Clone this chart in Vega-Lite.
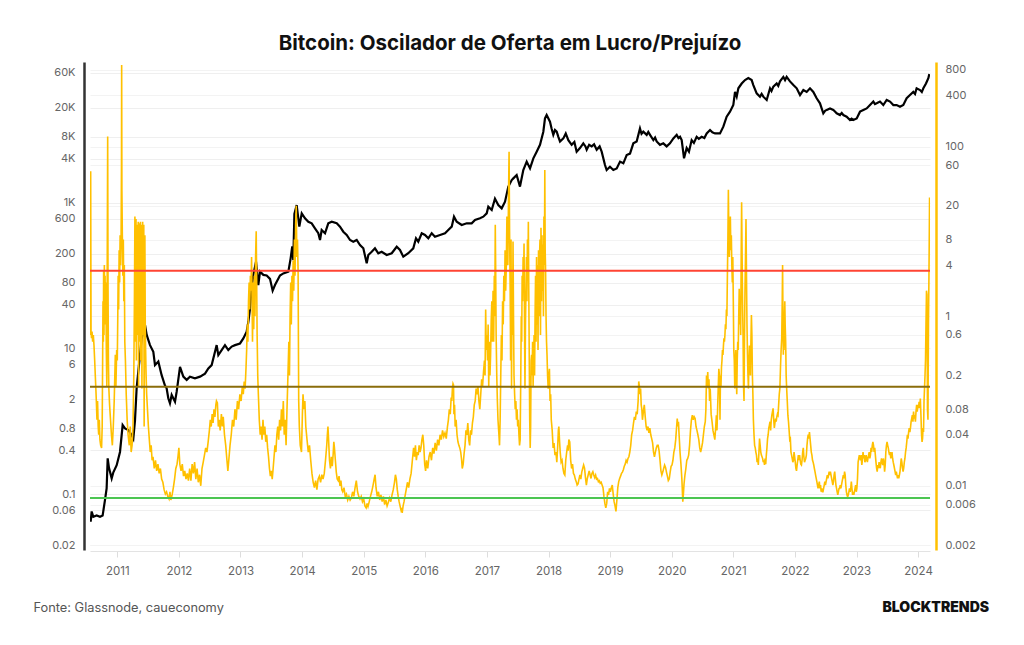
{
"$schema": "https://vega.github.io/schema/vega-lite/v6.json",
"width": 840, "height": 488,
"autosize": {"type": "none"},
"padding": {"left": 90, "top": 62, "right": 94, "bottom": 95},
"background": "white",
"config": {"font": "Inter", "view": {"stroke": null}},
"title": {"text": "Bitcoin: Oscilador de Oferta em Lucro/Prejuízo", "fontSize": 20.5, "fontWeight": "bold", "color": "#111111", "anchor": "middle", "offset": 8, "font": "Inter"},
"datasets": {
"preco": [
{"ano":2010.568,"preco":0.042},{"ano":2010.584,"preco":0.058},{"ano":2010.611,"preco":0.049},{"ano":2010.665,"preco":0.051},{"ano":2010.719,"preco":0.049},{"ano":2010.762,"preco":0.051},{"ano":2010.8,"preco":0.083},{"ano":2010.827,"preco":0.12},{"ano":2010.844,"preco":0.31},{"ano":2010.865,"preco":0.23},{"ano":2010.909,"preco":0.165},{"ano":2010.936,"preco":0.2},{"ano":2010.99,"preco":0.25},{"ano":2011.044,"preco":0.38},{"ano":2011.087,"preco":0.89},{"ano":2011.125,"preco":0.8},{"ano":2011.179,"preco":0.76},{"ano":2011.233,"preco":0.65},{"ano":2011.26,"preco":0.58},{"ano":2011.287,"preco":1.01},{"ano":2011.314,"preco":2.84},{"ano":2011.341,"preco":4.8},{"ano":2011.396,"preco":13.7},{"ano":2011.45,"preco":21},{"ano":2011.477,"preco":15.3},{"ano":2011.531,"preco":11.1},{"ano":2011.585,"preco":9},{"ano":2011.612,"preco":5.9},{"ano":2011.666,"preco":6.6},{"ano":2011.72,"preco":4.3},{"ano":2011.774,"preco":3.1},{"ano":2011.801,"preco":2.84},{"ano":2011.828,"preco":2.07},{"ano":2011.855,"preco":1.77},{"ano":2011.883,"preco":2.3},{"ano":2011.937,"preco":1.86},{"ano":2011.964,"preco":2.55},{"ano":2012.018,"preco":5.6},{"ano":2012.072,"preco":4.1},{"ano":2012.126,"preco":3.7},{"ano":2012.18,"preco":4.1},{"ano":2012.261,"preco":3.9},{"ano":2012.343,"preco":4.1},{"ano":2012.424,"preco":4.5},{"ano":2012.478,"preco":5.3},{"ano":2012.532,"preco":5.9},{"ano":2012.586,"preco":9},{"ano":2012.613,"preco":11.1},{"ano":2012.64,"preco":8.1},{"ano":2012.694,"preco":9.5},{"ano":2012.748,"preco":11.1},{"ano":2012.802,"preco":9.5},{"ano":2012.857,"preco":10.6},{"ano":2012.911,"preco":11.1},{"ano":2012.992,"preco":11.7},{"ano":2013.046,"preco":13.7},{"ano":2013.1,"preco":17},{"ano":2013.127,"preco":23},{"ano":2013.154,"preco":35},{"ano":2013.181,"preco":67},{"ano":2013.208,"preco":102},{"ano":2013.252,"preco":155},{"ano":2013.289,"preco":74},{"ano":2013.317,"preco":113},{"ano":2013.371,"preco":102},{"ano":2013.425,"preco":100},{"ano":2013.479,"preco":90},{"ano":2013.522,"preco":62},{"ano":2013.56,"preco":74},{"ano":2013.641,"preco":100},{"ano":2013.695,"preco":107},{"ano":2013.777,"preco":113},{"ano":2013.814,"preco":172},{"ano":2013.84,"preco":250},{"ano":2013.857,"preco":163},{"ano":2013.875,"preco":700},{"ano":2013.912,"preco":927},{"ano":2013.955,"preco":468},{"ano":2013.994,"preco":713},{"ano":2014.047,"preco":609},{"ano":2014.101,"preco":547},{"ano":2014.156,"preco":520},{"ano":2014.209,"preco":444},{"ano":2014.263,"preco":380},{"ano":2014.291,"preco":307},{"ano":2014.318,"preco":421},{"ano":2014.372,"preco":380},{"ano":2014.425,"preco":520},{"ano":2014.481,"preco":547},{"ano":2014.562,"preco":520},{"ano":2014.615,"preco":468},{"ano":2014.669,"preco":399},{"ano":2014.724,"preco":360},{"ano":2014.778,"preco":307},{"ano":2014.831,"preco":291},{"ano":2014.886,"preco":307},{"ano":2014.94,"preco":262},{"ano":2014.994,"preco":236},{"ano":2015.049,"preco":147},{"ano":2015.075,"preco":191},{"ano":2015.13,"preco":212},{"ano":2015.183,"preco":236},{"ano":2015.237,"preco":202},{"ano":2015.292,"preco":212},{"ano":2015.373,"preco":191},{"ano":2015.455,"preco":202},{"ano":2015.536,"preco":248},{"ano":2015.589,"preco":224},{"ano":2015.643,"preco":181},{"ano":2015.724,"preco":202},{"ano":2015.805,"preco":236},{"ano":2015.849,"preco":324},{"ano":2015.886,"preco":291},{"ano":2015.942,"preco":380},{"ano":2015.995,"preco":360},{"ano":2016.049,"preco":324},{"ano":2016.104,"preco":380},{"ano":2016.157,"preco":340},{"ano":2016.239,"preco":360},{"ano":2016.32,"preco":380},{"ano":2016.373,"preco":421},{"ano":2016.429,"preco":468},{"ano":2016.466,"preco":641},{"ano":2016.51,"preco":547},{"ano":2016.591,"preco":493},{"ano":2016.672,"preco":520},{"ano":2016.753,"preco":520},{"ano":2016.807,"preco":578},{"ano":2016.888,"preco":609},{"ano":2016.942,"preco":641},{"ano":2016.997,"preco":713},{"ano":2017.023,"preco":879},{"ano":2017.078,"preco":792},{"ano":2017.131,"preco":1130},{"ano":2017.185,"preco":927},{"ano":2017.24,"preco":835},{"ano":2017.294,"preco":1030},{"ano":2017.347,"preco":1650},{"ano":2017.403,"preco":2040},{"ano":2017.429,"preco":2150},{"ano":2017.483,"preco":2390},{"ano":2017.537,"preco":1660},{"ano":2017.591,"preco":2800},{"ano":2017.646,"preco":3650},{"ano":2017.7,"preco":2950},{"ano":2017.754,"preco":4050},{"ano":2017.808,"preco":5000},{"ano":2017.862,"preco":6200},{"ano":2017.916,"preco":9400},{"ano":2017.943,"preco":14300},{"ano":2017.97,"preco":15900},{"ano":2018.024,"preco":12900},{"ano":2018.05,"preco":10400},{"ano":2018.078,"preco":8500},{"ano":2018.105,"preco":9900},{"ano":2018.133,"preco":9400},{"ano":2018.16,"preco":8000},{"ano":2018.187,"preco":6900},{"ano":2018.241,"preco":7600},{"ano":2018.28,"preco":8900},{"ano":2018.322,"preco":7200},{"ano":2018.376,"preco":6200},{"ano":2018.42,"preco":6800},{"ano":2018.457,"preco":5000},{"ano":2018.511,"preco":5600},{"ano":2018.565,"preco":6500},{"ano":2018.6,"preco":5900},{"ano":2018.62,"preco":5300},{"ano":2018.66,"preco":6200},{"ano":2018.701,"preco":5900},{"ano":2018.74,"preco":6300},{"ano":2018.782,"preco":5300},{"ano":2018.83,"preco":5900},{"ano":2018.863,"preco":5000},{"ano":2018.917,"preco":3280},{"ano":2018.944,"preco":2800},{"ano":2018.998,"preco":3110},{"ano":2019.052,"preco":2800},{"ano":2019.107,"preco":2950},{"ano":2019.161,"preco":3650},{"ano":2019.215,"preco":3460},{"ano":2019.269,"preco":4500},{"ano":2019.323,"preco":4700},{"ano":2019.377,"preco":6500},{"ano":2019.431,"preco":6900},{"ano":2019.485,"preco":10400},{"ano":2019.51,"preco":8800},{"ano":2019.539,"preco":9400},{"ano":2019.594,"preco":8500},{"ano":2019.62,"preco":9300},{"ano":2019.648,"preco":8500},{"ano":2019.702,"preco":7200},{"ano":2019.73,"preco":7800},{"ano":2019.756,"preco":6900},{"ano":2019.81,"preco":6200},{"ano":2019.864,"preco":6500},{"ano":2019.918,"preco":5900},{"ano":2019.972,"preco":6500},{"ano":2020.027,"preco":7600},{"ano":2020.081,"preco":8500},{"ano":2020.11,"preco":7700},{"ano":2020.135,"preco":8000},{"ano":2020.162,"preco":7200},{"ano":2020.2,"preco":4050},{"ano":2020.243,"preco":5600},{"ano":2020.28,"preco":5000},{"ano":2020.324,"preco":7200},{"ano":2020.36,"preco":6600},{"ano":2020.405,"preco":8000},{"ano":2020.44,"preco":7500},{"ano":2020.486,"preco":8000},{"ano":2020.53,"preco":7700},{"ano":2020.568,"preco":8900},{"ano":2020.622,"preco":9900},{"ano":2020.66,"preco":9200},{"ano":2020.703,"preco":8900},{"ano":2020.757,"preco":8900},{"ano":2020.784,"preco":8900},{"ano":2020.838,"preco":11000},{"ano":2020.892,"preco":15100},{"ano":2020.946,"preco":17700},{"ano":2021.0,"preco":21800},{"ano":2021.028,"preco":33000},{"ano":2021.055,"preco":28400},{"ano":2021.082,"preco":37000},{"ano":2021.136,"preco":43000},{"ano":2021.19,"preco":48000},{"ano":2021.244,"preco":51000},{"ano":2021.298,"preco":48000},{"ano":2021.325,"preco":41000},{"ano":2021.379,"preco":31600},{"ano":2021.433,"preco":28400},{"ano":2021.46,"preco":31000},{"ano":2021.487,"preco":28400},{"ano":2021.542,"preco":25600},{"ano":2021.596,"preco":37000},{"ano":2021.62,"preco":34000},{"ano":2021.65,"preco":39000},{"ano":2021.704,"preco":43000},{"ano":2021.73,"preco":40000},{"ano":2021.758,"preco":46000},{"ano":2021.812,"preco":53000},{"ano":2021.84,"preco":48000},{"ano":2021.866,"preco":53000},{"ano":2021.92,"preco":46000},{"ano":2021.975,"preco":41000},{"ano":2022.029,"preco":37000},{"ano":2022.083,"preco":29900},{"ano":2022.137,"preco":35000},{"ano":2022.191,"preco":33000},{"ano":2022.245,"preco":37000},{"ano":2022.299,"preco":33000},{"ano":2022.353,"preco":27000},{"ano":2022.407,"preco":23000},{"ano":2022.461,"preco":16800},{"ano":2022.49,"preco":18200},{"ano":2022.516,"preco":18700},{"ano":2022.57,"preco":19600},{"ano":2022.624,"preco":18700},{"ano":2022.65,"preco":17800},{"ano":2022.678,"preco":16800},{"ano":2022.732,"preco":15900},{"ano":2022.76,"preco":17000},{"ano":2022.786,"preco":15900},{"ano":2022.84,"preco":15100},{"ano":2022.894,"preco":13600},{"ano":2022.92,"preco":14200},{"ano":2022.948,"preco":13600},{"ano":2023.003,"preco":14300},{"ano":2023.057,"preco":17700},{"ano":2023.111,"preco":18700},{"ano":2023.165,"preco":19600},{"ano":2023.219,"preco":21800},{"ano":2023.273,"preco":24300},{"ano":2023.3,"preco":22500},{"ano":2023.327,"preco":23000},{"ano":2023.381,"preco":24300},{"ano":2023.435,"preco":21800},{"ano":2023.49,"preco":25600},{"ano":2023.544,"preco":24300},{"ano":2023.598,"preco":21800},{"ano":2023.652,"preco":21800},{"ano":2023.706,"preco":20700},{"ano":2023.76,"preco":21800},{"ano":2023.814,"preco":27000},{"ano":2023.868,"preco":29900},{"ano":2023.922,"preco":33000},{"ano":2023.95,"preco":31000},{"ano":2023.976,"preco":37000},{"ano":2024.031,"preco":35000},{"ano":2024.06,"preco":33000},{"ano":2024.085,"preco":37000},{"ano":2024.128,"preco":43000},{"ano":2024.166,"preco":51000},{"ano":2024.182,"preco":58000}
],
"oscilador": [
{"ano":2010.558,"osc":0.6},{"ano":2010.563,"osc":0.7},{"ano":2010.568,"osc":51},{"ano":2010.574,"osc":0.66},{"ano":2010.582,"osc":0.55},{"ano":2010.59,"osc":0.66},{"ano":2010.6,"osc":0.5},{"ano":2010.611,"osc":0.6},{"ano":2010.622,"osc":0.45},{"ano":2010.633,"osc":0.3},{"ano":2010.643,"osc":0.2},{"ano":2010.652,"osc":0.14},{"ano":2010.66,"osc":0.1},{"ano":2010.67,"osc":0.06},{"ano":2010.68,"osc":0.1},{"ano":2010.69,"osc":0.05},{"ano":2010.698,"osc":0.04},{"ano":2010.708,"osc":0.06},{"ano":2010.718,"osc":0.035},{"ano":2010.73,"osc":0.03},{"ano":2010.745,"osc":0.028},{"ano":2010.755,"osc":0.05},{"ano":2010.762,"osc":0.3},{"ano":2010.768,"osc":1.5},{"ano":2010.774,"osc":0.5},{"ano":2010.778,"osc":3.5},{"ano":2010.784,"osc":0.6},{"ano":2010.79,"osc":4},{"ano":2010.796,"osc":1},{"ano":2010.802,"osc":3},{"ano":2010.808,"osc":0.8},{"ano":2010.815,"osc":2.5},{"ano":2010.822,"osc":0.4},{"ano":2010.83,"osc":0.15},{"ano":2010.838,"osc":8},{"ano":2010.844,"osc":131},{"ano":2010.85,"osc":2},{"ano":2010.856,"osc":0.3},{"ano":2010.863,"osc":0.14},{"ano":2010.875,"osc":0.09},{"ano":2010.89,"osc":0.06},{"ano":2010.905,"osc":0.04},{"ano":2010.92,"osc":0.03},{"ano":2010.935,"osc":0.05},{"ano":2010.95,"osc":0.1},{"ano":2010.96,"osc":0.2},{"ano":2010.968,"osc":0.35},{"ano":2010.978,"osc":0.15},{"ano":2010.99,"osc":0.4},{"ano":2011.0,"osc":0.3},{"ano":2011.008,"osc":1},{"ano":2011.014,"osc":3},{"ano":2011.022,"osc":1.2},{"ano":2011.03,"osc":6},{"ano":2011.038,"osc":2.5},{"ano":2011.046,"osc":9},{"ano":2011.054,"osc":4},{"ano":2011.062,"osc":9},{"ano":2011.068,"osc":60},{"ano":2011.071,"osc":916},{"ano":2011.075,"osc":30},{"ano":2011.082,"osc":9},{"ano":2011.09,"osc":3},{"ano":2011.098,"osc":8},{"ano":2011.106,"osc":1.5},{"ano":2011.114,"osc":4},{"ano":2011.122,"osc":0.5},{"ano":2011.132,"osc":0.3},{"ano":2011.145,"osc":0.12},{"ano":2011.16,"osc":0.06},{"ano":2011.175,"osc":0.04},{"ano":2011.195,"osc":0.03},{"ano":2011.21,"osc":0.05},{"ano":2011.225,"osc":0.025},{"ano":2011.24,"osc":0.03},{"ano":2011.255,"osc":0.05},{"ano":2011.268,"osc":0.2},{"ano":2011.278,"osc":1.5},{"ano":2011.286,"osc":15},{"ano":2011.292,"osc":0.5},{"ano":2011.298,"osc":2},{"ano":2011.304,"osc":14},{"ano":2011.31,"osc":0.3},{"ano":2011.316,"osc":3},{"ano":2011.322,"osc":12},{"ano":2011.328,"osc":0.6},{"ano":2011.334,"osc":4},{"ano":2011.34,"osc":13},{"ano":2011.346,"osc":0.15},{"ano":2011.352,"osc":2},{"ano":2011.358,"osc":12.5},{"ano":2011.364,"osc":0.5},{"ano":2011.37,"osc":5},{"ano":2011.376,"osc":13},{"ano":2011.382,"osc":0.3},{"ano":2011.388,"osc":3},{"ano":2011.394,"osc":12},{"ano":2011.4,"osc":0.14},{"ano":2011.406,"osc":6},{"ano":2011.412,"osc":13},{"ano":2011.418,"osc":0.6},{"ano":2011.424,"osc":2.5},{"ano":2011.43,"osc":12},{"ano":2011.436,"osc":0.05},{"ano":2011.442,"osc":1.5},{"ano":2011.448,"osc":9},{"ano":2011.454,"osc":0.8},{"ano":2011.46,"osc":0.4},{"ano":2011.468,"osc":0.2},{"ano":2011.477,"osc":0.12},{"ano":2011.49,"osc":0.08},{"ano":2011.505,"osc":0.05},{"ano":2011.52,"osc":0.035},{"ano":2011.535,"osc":0.025},{"ano":2011.55,"osc":0.03},{"ano":2011.565,"osc":0.02},{"ano":2011.58,"osc":0.022},{"ano":2011.6,"osc":0.016},{"ano":2011.62,"osc":0.02},{"ano":2011.64,"osc":0.015},{"ano":2011.66,"osc":0.018},{"ano":2011.68,"osc":0.014},{"ano":2011.7,"osc":0.016},{"ano":2011.72,"osc":0.012},{"ano":2011.74,"osc":0.011},{"ano":2011.76,"osc":0.009},{"ano":2011.78,"osc":0.008},{"ano":2011.8,"osc":0.0085},{"ano":2011.82,"osc":0.0075},{"ano":2011.84,"osc":0.007},{"ano":2011.855,"osc":0.0085},{"ano":2011.87,"osc":0.0068},{"ano":2011.89,"osc":0.0078},{"ano":2011.91,"osc":0.0095},{"ano":2011.93,"osc":0.012},{"ano":2011.95,"osc":0.016},{"ano":2011.97,"osc":0.018},{"ano":2011.985,"osc":0.022},{"ano":2012.0,"osc":0.028},{"ano":2012.015,"osc":0.018},{"ano":2012.035,"osc":0.015},{"ano":2012.055,"osc":0.018},{"ano":2012.075,"osc":0.013},{"ano":2012.095,"osc":0.015},{"ano":2012.115,"osc":0.012},{"ano":2012.135,"osc":0.014},{"ano":2012.155,"osc":0.0115},{"ano":2012.175,"osc":0.016},{"ano":2012.195,"osc":0.0115},{"ano":2012.215,"osc":0.018},{"ano":2012.235,"osc":0.014},{"ano":2012.255,"osc":0.019},{"ano":2012.275,"osc":0.012},{"ano":2012.295,"osc":0.016},{"ano":2012.315,"osc":0.011},{"ano":2012.335,"osc":0.0135},{"ano":2012.355,"osc":0.01},{"ano":2012.375,"osc":0.016},{"ano":2012.395,"osc":0.019},{"ano":2012.415,"osc":0.023},{"ano":2012.435,"osc":0.028},{"ano":2012.455,"osc":0.025},{"ano":2012.475,"osc":0.033},{"ano":2012.495,"osc":0.045},{"ano":2012.51,"osc":0.06},{"ano":2012.525,"osc":0.05},{"ano":2012.54,"osc":0.07},{"ano":2012.555,"osc":0.055},{"ano":2012.57,"osc":0.08},{"ano":2012.585,"osc":0.065},{"ano":2012.6,"osc":0.09},{"ano":2012.61,"osc":0.1},{"ano":2012.625,"osc":0.095},{"ano":2012.64,"osc":0.05},{"ano":2012.655,"osc":0.06},{"ano":2012.67,"osc":0.045},{"ano":2012.69,"osc":0.07},{"ano":2012.705,"osc":0.05},{"ano":2012.72,"osc":0.065},{"ano":2012.74,"osc":0.04},{"ano":2012.76,"osc":0.03},{"ano":2012.78,"osc":0.02},{"ano":2012.795,"osc":0.015},{"ano":2012.81,"osc":0.02},{"ano":2012.83,"osc":0.03},{"ano":2012.85,"osc":0.04},{"ano":2012.87,"osc":0.06},{"ano":2012.89,"osc":0.05},{"ano":2012.91,"osc":0.08},{"ano":2012.93,"osc":0.06},{"ano":2012.95,"osc":0.1},{"ano":2012.97,"osc":0.08},{"ano":2012.99,"osc":0.12},{"ano":2013.01,"osc":0.1},{"ano":2013.03,"osc":0.15},{"ano":2013.045,"osc":0.12},{"ano":2013.06,"osc":0.17},{"ano":2013.075,"osc":0.14},{"ano":2013.09,"osc":0.25},{"ano":2013.1,"osc":0.4},{"ano":2013.11,"osc":0.8},{"ano":2013.12,"osc":0.5},{"ano":2013.13,"osc":1.5},{"ano":2013.14,"osc":2.5},{"ano":2013.15,"osc":1.2},{"ano":2013.16,"osc":3},{"ano":2013.17,"osc":2},{"ano":2013.18,"osc":5},{"ano":2013.188,"osc":1.5},{"ano":2013.195,"osc":0.5},{"ano":2013.205,"osc":2.5},{"ano":2013.215,"osc":0.7},{"ano":2013.225,"osc":3},{"ano":2013.235,"osc":1},{"ano":2013.245,"osc":5},{"ano":2013.255,"osc":10},{"ano":2013.262,"osc":3},{"ano":2013.27,"osc":0.6},{"ano":2013.28,"osc":0.2},{"ano":2013.29,"osc":0.12},{"ano":2013.305,"osc":0.06},{"ano":2013.32,"osc":0.04},{"ano":2013.335,"osc":0.05},{"ano":2013.35,"osc":0.035},{"ano":2013.365,"osc":0.06},{"ano":2013.38,"osc":0.04},{"ano":2013.395,"osc":0.05},{"ano":2013.41,"osc":0.033},{"ano":2013.425,"osc":0.04},{"ano":2013.44,"osc":0.028},{"ano":2013.455,"osc":0.022},{"ano":2013.47,"osc":0.016},{"ano":2013.485,"osc":0.013},{"ano":2013.5,"osc":0.015},{"ano":2013.515,"osc":0.012},{"ano":2013.53,"osc":0.016},{"ano":2013.545,"osc":0.022},{"ano":2013.56,"osc":0.03},{"ano":2013.575,"osc":0.025},{"ano":2013.59,"osc":0.04},{"ano":2013.605,"osc":0.05},{"ano":2013.62,"osc":0.035},{"ano":2013.635,"osc":0.06},{"ano":2013.65,"osc":0.045},{"ano":2013.665,"osc":0.08},{"ano":2013.68,"osc":0.05},{"ano":2013.695,"osc":0.1},{"ano":2013.71,"osc":0.04},{"ano":2013.725,"osc":0.06},{"ano":2013.74,"osc":0.03},{"ano":2013.755,"osc":0.08},{"ano":2013.77,"osc":0.2},{"ano":2013.785,"osc":0.5},{"ano":2013.795,"osc":0.2},{"ano":2013.805,"osc":1},{"ano":2013.815,"osc":2.5},{"ano":2013.825,"osc":0.8},{"ano":2013.835,"osc":3},{"ano":2013.845,"osc":1.5},{"ano":2013.855,"osc":4.5},{"ano":2013.865,"osc":2},{"ano":2013.875,"osc":8},{"ano":2013.885,"osc":3},{"ano":2013.895,"osc":12},{"ano":2013.905,"osc":20},{"ano":2013.915,"osc":5},{"ano":2013.925,"osc":8},{"ano":2013.935,"osc":3.5},{"ano":2013.945,"osc":0.1},{"ano":2013.955,"osc":0.05},{"ano":2013.97,"osc":0.03},{"ano":2013.99,"osc":0.025},{"ano":2014.005,"osc":0.07},{"ano":2014.015,"osc":0.12},{"ano":2014.03,"osc":0.08},{"ano":2014.045,"osc":0.1},{"ano":2014.06,"osc":0.05},{"ano":2014.08,"osc":0.035},{"ano":2014.1,"osc":0.025},{"ano":2014.12,"osc":0.03},{"ano":2014.14,"osc":0.02},{"ano":2014.16,"osc":0.014},{"ano":2014.18,"osc":0.011},{"ano":2014.2,"osc":0.0095},{"ano":2014.22,"osc":0.0115},{"ano":2014.24,"osc":0.009},{"ano":2014.26,"osc":0.012},{"ano":2014.28,"osc":0.013},{"ano":2014.3,"osc":0.011},{"ano":2014.32,"osc":0.0135},{"ano":2014.34,"osc":0.012},{"ano":2014.36,"osc":0.014},{"ano":2014.38,"osc":0.02},{"ano":2014.4,"osc":0.03},{"ano":2014.41,"osc":0.04},{"ano":2014.42,"osc":0.05},{"ano":2014.43,"osc":0.035},{"ano":2014.445,"osc":0.02},{"ano":2014.46,"osc":0.016},{"ano":2014.475,"osc":0.022},{"ano":2014.49,"osc":0.017},{"ano":2014.505,"osc":0.024},{"ano":2014.515,"osc":0.033},{"ano":2014.525,"osc":0.028},{"ano":2014.54,"osc":0.02},{"ano":2014.555,"osc":0.0145},{"ano":2014.57,"osc":0.012},{"ano":2014.585,"osc":0.0115},{"ano":2014.6,"osc":0.013},{"ano":2014.615,"osc":0.01},{"ano":2014.63,"osc":0.0115},{"ano":2014.645,"osc":0.009},{"ano":2014.66,"osc":0.0085},{"ano":2014.68,"osc":0.0095},{"ano":2014.7,"osc":0.0075},{"ano":2014.72,"osc":0.008},{"ano":2014.74,"osc":0.0068},{"ano":2014.76,"osc":0.0075},{"ano":2014.78,"osc":0.0068},{"ano":2014.8,"osc":0.0072},{"ano":2014.82,"osc":0.0085},{"ano":2014.84,"osc":0.0075},{"ano":2014.86,"osc":0.0095},{"ano":2014.88,"osc":0.0115},{"ano":2014.9,"osc":0.0085},{"ano":2014.92,"osc":0.0075},{"ano":2014.94,"osc":0.007},{"ano":2014.96,"osc":0.0075},{"ano":2014.98,"osc":0.0065},{"ano":2015.0,"osc":0.007},{"ano":2015.02,"osc":0.0058},{"ano":2015.04,"osc":0.0055},{"ano":2015.055,"osc":0.0062},{"ano":2015.07,"osc":0.0057},{"ano":2015.09,"osc":0.0065},{"ano":2015.11,"osc":0.0075},{"ano":2015.13,"osc":0.0085},{"ano":2015.15,"osc":0.01},{"ano":2015.17,"osc":0.012},{"ano":2015.185,"osc":0.0135},{"ano":2015.2,"osc":0.0095},{"ano":2015.22,"osc":0.0075},{"ano":2015.24,"osc":0.0085},{"ano":2015.26,"osc":0.0068},{"ano":2015.28,"osc":0.0078},{"ano":2015.3,"osc":0.0065},{"ano":2015.32,"osc":0.0075},{"ano":2015.34,"osc":0.006},{"ano":2015.36,"osc":0.0068},{"ano":2015.38,"osc":0.0058},{"ano":2015.4,"osc":0.0064},{"ano":2015.42,"osc":0.0072},{"ano":2015.44,"osc":0.0065},{"ano":2015.46,"osc":0.0078},{"ano":2015.48,"osc":0.009},{"ano":2015.5,"osc":0.011},{"ano":2015.515,"osc":0.0135},{"ano":2015.53,"osc":0.012},{"ano":2015.545,"osc":0.009},{"ano":2015.56,"osc":0.0075},{"ano":2015.575,"osc":0.0065},{"ano":2015.59,"osc":0.0058},{"ano":2015.605,"osc":0.0052},{"ano":2015.615,"osc":0.0055},{"ano":2015.625,"osc":0.0048},{"ano":2015.64,"osc":0.0058},{"ano":2015.655,"osc":0.0065},{"ano":2015.67,"osc":0.0075},{"ano":2015.69,"osc":0.009},{"ano":2015.71,"osc":0.011},{"ano":2015.73,"osc":0.0095},{"ano":2015.75,"osc":0.012},{"ano":2015.77,"osc":0.014},{"ano":2015.79,"osc":0.02},{"ano":2015.81,"osc":0.028},{"ano":2015.825,"osc":0.022},{"ano":2015.84,"osc":0.03},{"ano":2015.855,"osc":0.02},{"ano":2015.87,"osc":0.025},{"ano":2015.885,"osc":0.023},{"ano":2015.9,"osc":0.03},{"ano":2015.915,"osc":0.025},{"ano":2015.93,"osc":0.028},{"ano":2015.945,"osc":0.035},{"ano":2015.96,"osc":0.04},{"ano":2015.975,"osc":0.03},{"ano":2015.99,"osc":0.018},{"ano":2016.005,"osc":0.015},{"ano":2016.02,"osc":0.02},{"ano":2016.04,"osc":0.016},{"ano":2016.06,"osc":0.022},{"ano":2016.08,"osc":0.025},{"ano":2016.1,"osc":0.02},{"ano":2016.12,"osc":0.028},{"ano":2016.14,"osc":0.024},{"ano":2016.16,"osc":0.032},{"ano":2016.18,"osc":0.026},{"ano":2016.2,"osc":0.035},{"ano":2016.22,"osc":0.03},{"ano":2016.24,"osc":0.04},{"ano":2016.26,"osc":0.035},{"ano":2016.28,"osc":0.045},{"ano":2016.3,"osc":0.038},{"ano":2016.32,"osc":0.042},{"ano":2016.34,"osc":0.036},{"ano":2016.36,"osc":0.05},{"ano":2016.375,"osc":0.06},{"ano":2016.39,"osc":0.08},{"ano":2016.405,"osc":0.07},{"ano":2016.42,"osc":0.11},{"ano":2016.43,"osc":0.1},{"ano":2016.44,"osc":0.14},{"ano":2016.45,"osc":0.16},{"ano":2016.458,"osc":0.155},{"ano":2016.465,"osc":0.07},{"ano":2016.475,"osc":0.09},{"ano":2016.485,"osc":0.05},{"ano":2016.5,"osc":0.06},{"ano":2016.515,"osc":0.04},{"ano":2016.53,"osc":0.033},{"ano":2016.545,"osc":0.03},{"ano":2016.56,"osc":0.028},{"ano":2016.575,"osc":0.025},{"ano":2016.59,"osc":0.02},{"ano":2016.6,"osc":0.016},{"ano":2016.615,"osc":0.018},{"ano":2016.63,"osc":0.024},{"ano":2016.645,"osc":0.03},{"ano":2016.66,"osc":0.045},{"ano":2016.675,"osc":0.04},{"ano":2016.69,"osc":0.055},{"ano":2016.705,"osc":0.035},{"ano":2016.72,"osc":0.03},{"ano":2016.735,"osc":0.045},{"ano":2016.75,"osc":0.04},{"ano":2016.765,"osc":0.055},{"ano":2016.78,"osc":0.065},{"ano":2016.795,"osc":0.09},{"ano":2016.81,"osc":0.1},{"ano":2016.825,"osc":0.14},{"ano":2016.84,"osc":0.12},{"ano":2016.855,"osc":0.15},{"ano":2016.87,"osc":0.1},{"ano":2016.885,"osc":0.08},{"ano":2016.9,"osc":0.12},{"ano":2016.915,"osc":0.18},{"ano":2016.93,"osc":0.15},{"ano":2016.945,"osc":0.22},{"ano":2016.96,"osc":0.3},{"ano":2016.97,"osc":0.2},{"ano":2016.98,"osc":1.2},{"ano":2016.99,"osc":0.4},{"ano":2017.0,"osc":0.6},{"ano":2017.01,"osc":0.3},{"ano":2017.02,"osc":0.8},{"ano":2017.03,"osc":0.15},{"ano":2017.04,"osc":0.5},{"ano":2017.05,"osc":0.2},{"ano":2017.06,"osc":0.35},{"ano":2017.07,"osc":0.9},{"ano":2017.08,"osc":1.5},{"ano":2017.09,"osc":0.5},{"ano":2017.1,"osc":2},{"ano":2017.11,"osc":0.5},{"ano":2017.12,"osc":3},{"ano":2017.128,"osc":1},{"ano":2017.136,"osc":12},{"ano":2017.142,"osc":4},{"ano":2017.15,"osc":0.6},{"ano":2017.16,"osc":0.2},{"ano":2017.17,"osc":0.1},{"ano":2017.18,"osc":0.06},{"ano":2017.195,"osc":0.04},{"ano":2017.205,"osc":0.03},{"ano":2017.215,"osc":0.06},{"ano":2017.225,"osc":0.2},{"ano":2017.235,"osc":0.6},{"ano":2017.245,"osc":0.3},{"ano":2017.255,"osc":1.5},{"ano":2017.265,"osc":0.8},{"ano":2017.275,"osc":3},{"ano":2017.285,"osc":1.5},{"ano":2017.295,"osc":6},{"ano":2017.305,"osc":2},{"ano":2017.315,"osc":4},{"ano":2017.325,"osc":15},{"ano":2017.34,"osc":4},{"ano":2017.352,"osc":30},{"ano":2017.36,"osc":87},{"ano":2017.368,"osc":10},{"ano":2017.378,"osc":2},{"ano":2017.385,"osc":0.3},{"ano":2017.392,"osc":8},{"ano":2017.4,"osc":0.14},{"ano":2017.408,"osc":2},{"ano":2017.416,"osc":0.6},{"ano":2017.424,"osc":7.6},{"ano":2017.432,"osc":1},{"ano":2017.44,"osc":0.2},{"ano":2017.45,"osc":0.12},{"ano":2017.46,"osc":0.08},{"ano":2017.47,"osc":0.1},{"ano":2017.48,"osc":0.06},{"ano":2017.49,"osc":0.08},{"ano":2017.5,"osc":0.05},{"ano":2017.51,"osc":0.06},{"ano":2017.52,"osc":0.04},{"ano":2017.53,"osc":0.03},{"ano":2017.54,"osc":0.035},{"ano":2017.55,"osc":0.2},{"ano":2017.558,"osc":1},{"ano":2017.565,"osc":0.5},{"ano":2017.572,"osc":3},{"ano":2017.58,"osc":1.5},{"ano":2017.588,"osc":5},{"ano":2017.596,"osc":3},{"ano":2017.603,"osc":7.2},{"ano":2017.61,"osc":1},{"ano":2017.618,"osc":0.14},{"ano":2017.626,"osc":0.8},{"ano":2017.634,"osc":2},{"ano":2017.642,"osc":5},{"ano":2017.65,"osc":1.5},{"ano":2017.658,"osc":8},{"ano":2017.666,"osc":3},{"ano":2017.673,"osc":13},{"ano":2017.68,"osc":2},{"ano":2017.688,"osc":0.3},{"ano":2017.695,"osc":0.06},{"ano":2017.703,"osc":0.028},{"ano":2017.71,"osc":0.05},{"ano":2017.718,"osc":0.3},{"ano":2017.726,"osc":0.35},{"ano":2017.734,"osc":0.2},{"ano":2017.742,"osc":0.5},{"ano":2017.75,"osc":0.15},{"ano":2017.758,"osc":0.3},{"ano":2017.766,"osc":0.6},{"ano":2017.774,"osc":0.2},{"ano":2017.782,"osc":1},{"ano":2017.79,"osc":3},{"ano":2017.798,"osc":0.5},{"ano":2017.806,"osc":5},{"ano":2017.814,"osc":0.8},{"ano":2017.822,"osc":4},{"ano":2017.83,"osc":0.4},{"ano":2017.838,"osc":6},{"ano":2017.846,"osc":1},{"ano":2017.854,"osc":5},{"ano":2017.862,"osc":8},{"ano":2017.87,"osc":0.6},{"ano":2017.878,"osc":11},{"ano":2017.886,"osc":1.5},{"ano":2017.894,"osc":9},{"ano":2017.902,"osc":2},{"ano":2017.91,"osc":7},{"ano":2017.918,"osc":1},{"ano":2017.926,"osc":15},{"ano":2017.934,"osc":4},{"ano":2017.94,"osc":53},{"ano":2017.946,"osc":6},{"ano":2017.953,"osc":3.4},{"ano":2017.96,"osc":1},{"ano":2017.968,"osc":0.5},{"ano":2017.976,"osc":0.35},{"ano":2017.985,"osc":0.2},{"ano":2017.995,"osc":0.14},{"ano":2018.005,"osc":0.2},{"ano":2018.015,"osc":0.24},{"ano":2018.025,"osc":0.1},{"ano":2018.035,"osc":0.12},{"ano":2018.045,"osc":0.06},{"ano":2018.06,"osc":0.045},{"ano":2018.075,"osc":0.028},{"ano":2018.09,"osc":0.032},{"ano":2018.105,"osc":0.023},{"ano":2018.12,"osc":0.025},{"ano":2018.135,"osc":0.019},{"ano":2018.15,"osc":0.03},{"ano":2018.16,"osc":0.045},{"ano":2018.168,"osc":0.05},{"ano":2018.178,"osc":0.035},{"ano":2018.19,"osc":0.025},{"ano":2018.205,"osc":0.019},{"ano":2018.22,"osc":0.02},{"ano":2018.235,"osc":0.016},{"ano":2018.25,"osc":0.014},{"ano":2018.265,"osc":0.0134},{"ano":2018.28,"osc":0.02},{"ano":2018.295,"osc":0.025},{"ano":2018.31,"osc":0.03},{"ano":2018.32,"osc":0.026},{"ano":2018.33,"osc":0.035},{"ano":2018.345,"osc":0.033},{"ano":2018.36,"osc":0.02},{"ano":2018.375,"osc":0.016},{"ano":2018.39,"osc":0.018},{"ano":2018.405,"osc":0.014},{"ano":2018.42,"osc":0.0134},{"ano":2018.435,"osc":0.012},{"ano":2018.45,"osc":0.0112},{"ano":2018.465,"osc":0.0102},{"ano":2018.48,"osc":0.0105},{"ano":2018.495,"osc":0.012},{"ano":2018.51,"osc":0.0134},{"ano":2018.525,"osc":0.012},{"ano":2018.54,"osc":0.0145},{"ano":2018.555,"osc":0.016},{"ano":2018.57,"osc":0.0176},{"ano":2018.585,"osc":0.0161},{"ano":2018.6,"osc":0.0125},{"ano":2018.615,"osc":0.0102},{"ano":2018.63,"osc":0.0122},{"ano":2018.645,"osc":0.0135},{"ano":2018.66,"osc":0.015},{"ano":2018.675,"osc":0.0135},{"ano":2018.69,"osc":0.0122},{"ano":2018.705,"osc":0.014},{"ano":2018.72,"osc":0.0147},{"ano":2018.735,"osc":0.0134},{"ano":2018.75,"osc":0.0125},{"ano":2018.765,"osc":0.0134},{"ano":2018.78,"osc":0.012},{"ano":2018.795,"osc":0.0122},{"ano":2018.81,"osc":0.0112},{"ano":2018.825,"osc":0.0115},{"ano":2018.84,"osc":0.0107},{"ano":2018.855,"osc":0.011},{"ano":2018.87,"osc":0.0102},{"ano":2018.885,"osc":0.0095},{"ano":2018.9,"osc":0.0075},{"ano":2018.915,"osc":0.0062},{"ano":2018.93,"osc":0.0055},{"ano":2018.945,"osc":0.0062},{"ano":2018.96,"osc":0.0085},{"ano":2018.975,"osc":0.0078},{"ano":2018.99,"osc":0.0093},{"ano":2019.005,"osc":0.0085},{"ano":2019.02,"osc":0.0095},{"ano":2019.035,"osc":0.0102},{"ano":2019.05,"osc":0.008},{"ano":2019.065,"osc":0.0065},{"ano":2019.08,"osc":0.0058},{"ano":2019.095,"osc":0.005},{"ano":2019.11,"osc":0.0068},{"ano":2019.125,"osc":0.0095},{"ano":2019.14,"osc":0.0112},{"ano":2019.155,"osc":0.0122},{"ano":2019.17,"osc":0.013},{"ano":2019.185,"osc":0.014},{"ano":2019.2,"osc":0.0145},{"ano":2019.215,"osc":0.0155},{"ano":2019.23,"osc":0.017},{"ano":2019.245,"osc":0.018},{"ano":2019.26,"osc":0.02},{"ano":2019.275,"osc":0.019},{"ano":2019.29,"osc":0.021},{"ano":2019.305,"osc":0.022},{"ano":2019.32,"osc":0.025},{"ano":2019.335,"osc":0.03},{"ano":2019.35,"osc":0.04},{"ano":2019.365,"osc":0.045},{"ano":2019.38,"osc":0.055},{"ano":2019.395,"osc":0.065},{"ano":2019.41,"osc":0.06},{"ano":2019.425,"osc":0.075},{"ano":2019.44,"osc":0.07},{"ano":2019.455,"osc":0.1},{"ano":2019.465,"osc":0.17},{"ano":2019.475,"osc":0.15},{"ano":2019.485,"osc":0.12},{"ano":2019.495,"osc":0.14},{"ano":2019.505,"osc":0.09},{"ano":2019.515,"osc":0.08},{"ano":2019.525,"osc":0.06},{"ano":2019.54,"osc":0.075},{"ano":2019.555,"osc":0.09},{"ano":2019.57,"osc":0.065},{"ano":2019.585,"osc":0.05},{"ano":2019.6,"osc":0.045},{"ano":2019.615,"osc":0.05},{"ano":2019.63,"osc":0.042},{"ano":2019.645,"osc":0.048},{"ano":2019.66,"osc":0.04},{"ano":2019.675,"osc":0.036},{"ano":2019.69,"osc":0.032},{"ano":2019.705,"osc":0.025},{"ano":2019.72,"osc":0.022},{"ano":2019.735,"osc":0.025},{"ano":2019.75,"osc":0.028},{"ano":2019.765,"osc":0.03},{"ano":2019.78,"osc":0.03},{"ano":2019.795,"osc":0.026},{"ano":2019.81,"osc":0.02},{"ano":2019.825,"osc":0.015},{"ano":2019.84,"osc":0.0134},{"ano":2019.855,"osc":0.0145},{"ano":2019.87,"osc":0.016},{"ano":2019.885,"osc":0.0176},{"ano":2019.9,"osc":0.0165},{"ano":2019.915,"osc":0.0145},{"ano":2019.93,"osc":0.013},{"ano":2019.945,"osc":0.0115},{"ano":2019.96,"osc":0.012},{"ano":2019.975,"osc":0.0145},{"ano":2019.99,"osc":0.017},{"ano":2020.005,"osc":0.0176},{"ano":2020.02,"osc":0.02},{"ano":2020.035,"osc":0.025},{"ano":2020.05,"osc":0.028},{"ano":2020.065,"osc":0.035},{"ano":2020.08,"osc":0.05},{"ano":2020.09,"osc":0.062},{"ano":2020.1,"osc":0.05},{"ano":2020.11,"osc":0.057},{"ano":2020.12,"osc":0.04},{"ano":2020.135,"osc":0.025},{"ano":2020.15,"osc":0.018},{"ano":2020.165,"osc":0.012},{"ano":2020.18,"osc":0.0065},{"ano":2020.19,"osc":0.008},{"ano":2020.2,"osc":0.0105},{"ano":2020.215,"osc":0.0134},{"ano":2020.23,"osc":0.016},{"ano":2020.245,"osc":0.02},{"ano":2020.26,"osc":0.021},{"ano":2020.275,"osc":0.023},{"ano":2020.29,"osc":0.03},{"ano":2020.305,"osc":0.045},{"ano":2020.32,"osc":0.06},{"ano":2020.335,"osc":0.068},{"ano":2020.35,"osc":0.06},{"ano":2020.365,"osc":0.065},{"ano":2020.38,"osc":0.062},{"ano":2020.395,"osc":0.05},{"ano":2020.41,"osc":0.045},{"ano":2020.425,"osc":0.04},{"ano":2020.44,"osc":0.035},{"ano":2020.455,"osc":0.028},{"ano":2020.47,"osc":0.025},{"ano":2020.485,"osc":0.028},{"ano":2020.5,"osc":0.032},{"ano":2020.515,"osc":0.04},{"ano":2020.53,"osc":0.05},{"ano":2020.545,"osc":0.057},{"ano":2020.555,"osc":0.08},{"ano":2020.565,"osc":0.2},{"ano":2020.575,"osc":0.15},{"ano":2020.585,"osc":0.22},{"ano":2020.595,"osc":0.14},{"ano":2020.605,"osc":0.18},{"ano":2020.615,"osc":0.1},{"ano":2020.625,"osc":0.14},{"ano":2020.64,"osc":0.07},{"ano":2020.655,"osc":0.057},{"ano":2020.67,"osc":0.045},{"ano":2020.685,"osc":0.04},{"ano":2020.7,"osc":0.035},{"ano":2020.715,"osc":0.05},{"ano":2020.725,"osc":0.068},{"ano":2020.735,"osc":0.045},{"ano":2020.745,"osc":0.08},{"ano":2020.755,"osc":0.14},{"ano":2020.765,"osc":0.24},{"ano":2020.775,"osc":0.2},{"ano":2020.784,"osc":0.06},{"ano":2020.792,"osc":0.2},{"ano":2020.8,"osc":0.15},{"ano":2020.808,"osc":0.25},{"ano":2020.816,"osc":0.3},{"ano":2020.824,"osc":0.4},{"ano":2020.832,"osc":0.35},{"ano":2020.84,"osc":0.45},{"ano":2020.848,"osc":0.55},{"ano":2020.856,"osc":0.5},{"ano":2020.864,"osc":0.6},{"ano":2020.872,"osc":0.8},{"ano":2020.88,"osc":0.7},{"ano":2020.888,"osc":1.2},{"ano":2020.896,"osc":1.0},{"ano":2020.904,"osc":3},{"ano":2020.912,"osc":8},{"ano":2020.92,"osc":31},{"ano":2020.928,"osc":8},{"ano":2020.936,"osc":5},{"ano":2020.944,"osc":10},{"ano":2020.952,"osc":15},{"ano":2020.96,"osc":6},{"ano":2020.968,"osc":9},{"ano":2020.976,"osc":4},{"ano":2020.984,"osc":2.5},{"ano":2020.992,"osc":5},{"ano":2021.0,"osc":1.5},{"ano":2021.008,"osc":0.4},{"ano":2021.016,"osc":0.3},{"ano":2021.024,"osc":0.14},{"ano":2021.032,"osc":0.25},{"ano":2021.04,"osc":0.4},{"ano":2021.048,"osc":0.2},{"ano":2021.056,"osc":0.12},{"ano":2021.064,"osc":0.3},{"ano":2021.072,"osc":0.5},{"ano":2021.08,"osc":0.4},{"ano":2021.088,"osc":1},{"ano":2021.096,"osc":2.1},{"ano":2021.104,"osc":0.8},{"ano":2021.112,"osc":1.5},{"ano":2021.12,"osc":0.6},{"ano":2021.128,"osc":5},{"ano":2021.135,"osc":22},{"ano":2021.142,"osc":6},{"ano":2021.15,"osc":1.5},{"ano":2021.158,"osc":0.6},{"ano":2021.166,"osc":0.15},{"ano":2021.174,"osc":0.1},{"ano":2021.182,"osc":0.6},{"ano":2021.19,"osc":2.1},{"ano":2021.198,"osc":5},{"ano":2021.206,"osc":14},{"ano":2021.214,"osc":3},{"ano":2021.222,"osc":0.8},{"ano":2021.23,"osc":0.35},{"ano":2021.238,"osc":0.2},{"ano":2021.246,"osc":0.14},{"ano":2021.254,"osc":0.3},{"ano":2021.262,"osc":0.45},{"ano":2021.27,"osc":0.3},{"ano":2021.278,"osc":0.2},{"ano":2021.286,"osc":0.5},{"ano":2021.294,"osc":1.03},{"ano":2021.302,"osc":0.6},{"ano":2021.31,"osc":0.2},{"ano":2021.318,"osc":0.12},{"ano":2021.326,"osc":0.06},{"ano":2021.336,"osc":0.04},{"ano":2021.346,"osc":0.03},{"ano":2021.356,"osc":0.028},{"ano":2021.366,"osc":0.025},{"ano":2021.376,"osc":0.023},{"ano":2021.386,"osc":0.019},{"ano":2021.396,"osc":0.021},{"ano":2021.406,"osc":0.0176},{"ano":2021.416,"osc":0.025},{"ano":2021.426,"osc":0.036},{"ano":2021.436,"osc":0.03},{"ano":2021.446,"osc":0.025},{"ano":2021.456,"osc":0.023},{"ano":2021.466,"osc":0.022},{"ano":2021.476,"osc":0.021},{"ano":2021.486,"osc":0.019},{"ano":2021.496,"osc":0.02},{"ano":2021.506,"osc":0.0176},{"ano":2021.516,"osc":0.021},{"ano":2021.526,"osc":0.018},{"ano":2021.536,"osc":0.023},{"ano":2021.546,"osc":0.028},{"ano":2021.556,"osc":0.036},{"ano":2021.566,"osc":0.04},{"ano":2021.576,"osc":0.048},{"ano":2021.586,"osc":0.052},{"ano":2021.596,"osc":0.057},{"ano":2021.606,"osc":0.045},{"ano":2021.616,"osc":0.06},{"ano":2021.626,"osc":0.068},{"ano":2021.636,"osc":0.075},{"ano":2021.646,"osc":0.082},{"ano":2021.656,"osc":0.06},{"ano":2021.666,"osc":0.048},{"ano":2021.676,"osc":0.055},{"ano":2021.686,"osc":0.062},{"ano":2021.696,"osc":0.057},{"ano":2021.706,"osc":0.065},{"ano":2021.716,"osc":0.07},{"ano":2021.726,"osc":0.068},{"ano":2021.736,"osc":0.09},{"ano":2021.746,"osc":0.12},{"ano":2021.756,"osc":0.141},{"ano":2021.766,"osc":0.25},{"ano":2021.776,"osc":0.4},{"ano":2021.786,"osc":0.55},{"ano":2021.794,"osc":1.5},{"ano":2021.8,"osc":4.0},{"ano":2021.806,"osc":1},{"ano":2021.812,"osc":0.35},{"ano":2021.818,"osc":0.6},{"ano":2021.824,"osc":0.4},{"ano":2021.83,"osc":1},{"ano":2021.836,"osc":1.5},{"ano":2021.842,"osc":0.8},{"ano":2021.85,"osc":0.5},{"ano":2021.858,"osc":0.2},{"ano":2021.866,"osc":0.141},{"ano":2021.876,"osc":0.1},{"ano":2021.886,"osc":0.068},{"ano":2021.896,"osc":0.057},{"ano":2021.906,"osc":0.045},{"ano":2021.916,"osc":0.035},{"ano":2021.926,"osc":0.036},{"ano":2021.936,"osc":0.025},{"ano":2021.946,"osc":0.023},{"ano":2021.956,"osc":0.021},{"ano":2021.966,"osc":0.019},{"ano":2021.976,"osc":0.02},{"ano":2021.986,"osc":0.025},{"ano":2021.996,"osc":0.022},{"ano":2022.006,"osc":0.019},{"ano":2022.016,"osc":0.0161},{"ano":2022.026,"osc":0.015},{"ano":2022.036,"osc":0.0176},{"ano":2022.046,"osc":0.02},{"ano":2022.056,"osc":0.023},{"ano":2022.066,"osc":0.02},{"ano":2022.076,"osc":0.023},{"ano":2022.086,"osc":0.02},{"ano":2022.096,"osc":0.018},{"ano":2022.106,"osc":0.0176},{"ano":2022.116,"osc":0.02},{"ano":2022.126,"osc":0.025},{"ano":2022.136,"osc":0.028},{"ano":2022.146,"osc":0.022},{"ano":2022.156,"osc":0.019},{"ano":2022.166,"osc":0.02},{"ano":2022.176,"osc":0.021},{"ano":2022.186,"osc":0.023},{"ano":2022.196,"osc":0.03},{"ano":2022.206,"osc":0.036},{"ano":2022.216,"osc":0.04},{"ano":2022.226,"osc":0.036},{"ano":2022.236,"osc":0.043},{"ano":2022.246,"osc":0.036},{"ano":2022.256,"osc":0.03},{"ano":2022.266,"osc":0.025},{"ano":2022.276,"osc":0.023},{"ano":2022.286,"osc":0.02},{"ano":2022.296,"osc":0.019},{"ano":2022.306,"osc":0.0176},{"ano":2022.316,"osc":0.016},{"ano":2022.326,"osc":0.0147},{"ano":2022.336,"osc":0.0134},{"ano":2022.346,"osc":0.0122},{"ano":2022.356,"osc":0.0112},{"ano":2022.366,"osc":0.0102},{"ano":2022.376,"osc":0.0093},{"ano":2022.386,"osc":0.0102},{"ano":2022.396,"osc":0.0112},{"ano":2022.406,"osc":0.0093},{"ano":2022.416,"osc":0.0102},{"ano":2022.426,"osc":0.0085},{"ano":2022.436,"osc":0.0093},{"ano":2022.446,"osc":0.0085},{"ano":2022.456,"osc":0.0085},{"ano":2022.466,"osc":0.0093},{"ano":2022.476,"osc":0.0102},{"ano":2022.486,"osc":0.0112},{"ano":2022.496,"osc":0.0102},{"ano":2022.506,"osc":0.0112},{"ano":2022.516,"osc":0.0122},{"ano":2022.526,"osc":0.0134},{"ano":2022.536,"osc":0.0122},{"ano":2022.546,"osc":0.0134},{"ano":2022.556,"osc":0.0147},{"ano":2022.566,"osc":0.0134},{"ano":2022.576,"osc":0.0147},{"ano":2022.586,"osc":0.0134},{"ano":2022.596,"osc":0.0122},{"ano":2022.606,"osc":0.0112},{"ano":2022.616,"osc":0.0102},{"ano":2022.626,"osc":0.0112},{"ano":2022.636,"osc":0.0134},{"ano":2022.646,"osc":0.0147},{"ano":2022.656,"osc":0.0122},{"ano":2022.666,"osc":0.0102},{"ano":2022.676,"osc":0.0093},{"ano":2022.686,"osc":0.0085},{"ano":2022.696,"osc":0.0078},{"ano":2022.706,"osc":0.0085},{"ano":2022.716,"osc":0.0093},{"ano":2022.726,"osc":0.0093},{"ano":2022.736,"osc":0.0102},{"ano":2022.746,"osc":0.0093},{"ano":2022.756,"osc":0.0102},{"ano":2022.766,"osc":0.0112},{"ano":2022.776,"osc":0.0122},{"ano":2022.786,"osc":0.0134},{"ano":2022.796,"osc":0.0122},{"ano":2022.806,"osc":0.0147},{"ano":2022.816,"osc":0.0134},{"ano":2022.826,"osc":0.0102},{"ano":2022.836,"osc":0.0085},{"ano":2022.846,"osc":0.0078},{"ano":2022.856,"osc":0.0074},{"ano":2022.866,"osc":0.0078},{"ano":2022.876,"osc":0.0085},{"ano":2022.886,"osc":0.0093},{"ano":2022.896,"osc":0.0085},{"ano":2022.906,"osc":0.0093},{"ano":2022.916,"osc":0.0112},{"ano":2022.926,"osc":0.0093},{"ano":2022.936,"osc":0.0078},{"ano":2022.946,"osc":0.0085},{"ano":2022.956,"osc":0.0078},{"ano":2022.966,"osc":0.0085},{"ano":2022.976,"osc":0.0093},{"ano":2022.986,"osc":0.0102},{"ano":2022.996,"osc":0.0085},{"ano":2023.006,"osc":0.0093},{"ano":2023.016,"osc":0.0122},{"ano":2023.026,"osc":0.019},{"ano":2023.036,"osc":0.021},{"ano":2023.046,"osc":0.023},{"ano":2023.056,"osc":0.021},{"ano":2023.066,"osc":0.02},{"ano":2023.076,"osc":0.023},{"ano":2023.086,"osc":0.0176},{"ano":2023.096,"osc":0.02},{"ano":2023.106,"osc":0.025},{"ano":2023.116,"osc":0.021},{"ano":2023.126,"osc":0.023},{"ano":2023.136,"osc":0.019},{"ano":2023.146,"osc":0.02},{"ano":2023.156,"osc":0.023},{"ano":2023.166,"osc":0.021},{"ano":2023.176,"osc":0.019},{"ano":2023.186,"osc":0.021},{"ano":2023.196,"osc":0.023},{"ano":2023.206,"osc":0.025},{"ano":2023.216,"osc":0.021},{"ano":2023.226,"osc":0.023},{"ano":2023.236,"osc":0.028},{"ano":2023.246,"osc":0.025},{"ano":2023.256,"osc":0.03},{"ano":2023.266,"osc":0.033},{"ano":2023.276,"osc":0.03},{"ano":2023.286,"osc":0.025},{"ano":2023.296,"osc":0.028},{"ano":2023.306,"osc":0.023},{"ano":2023.316,"osc":0.019},{"ano":2023.326,"osc":0.0161},{"ano":2023.336,"osc":0.0147},{"ano":2023.346,"osc":0.0176},{"ano":2023.356,"osc":0.0161},{"ano":2023.366,"osc":0.019},{"ano":2023.376,"osc":0.0176},{"ano":2023.386,"osc":0.0161},{"ano":2023.396,"osc":0.019},{"ano":2023.406,"osc":0.021},{"ano":2023.416,"osc":0.019},{"ano":2023.426,"osc":0.0176},{"ano":2023.436,"osc":0.021},{"ano":2023.446,"osc":0.019},{"ano":2023.456,"osc":0.0147},{"ano":2023.466,"osc":0.0176},{"ano":2023.476,"osc":0.025},{"ano":2023.486,"osc":0.03},{"ano":2023.496,"osc":0.033},{"ano":2023.506,"osc":0.03},{"ano":2023.516,"osc":0.028},{"ano":2023.526,"osc":0.025},{"ano":2023.536,"osc":0.023},{"ano":2023.546,"osc":0.025},{"ano":2023.556,"osc":0.021},{"ano":2023.566,"osc":0.023},{"ano":2023.576,"osc":0.025},{"ano":2023.586,"osc":0.021},{"ano":2023.596,"osc":0.019},{"ano":2023.606,"osc":0.0176},{"ano":2023.616,"osc":0.0161},{"ano":2023.626,"osc":0.0147},{"ano":2023.636,"osc":0.0134},{"ano":2023.646,"osc":0.0147},{"ano":2023.656,"osc":0.0134},{"ano":2023.666,"osc":0.0122},{"ano":2023.676,"osc":0.0134},{"ano":2023.686,"osc":0.0122},{"ano":2023.696,"osc":0.0134},{"ano":2023.706,"osc":0.0147},{"ano":2023.716,"osc":0.0176},{"ano":2023.726,"osc":0.021},{"ano":2023.736,"osc":0.019},{"ano":2023.746,"osc":0.0161},{"ano":2023.756,"osc":0.0147},{"ano":2023.766,"osc":0.0161},{"ano":2023.776,"osc":0.019},{"ano":2023.786,"osc":0.021},{"ano":2023.796,"osc":0.025},{"ano":2023.806,"osc":0.028},{"ano":2023.816,"osc":0.033},{"ano":2023.826,"osc":0.04},{"ano":2023.836,"osc":0.036},{"ano":2023.846,"osc":0.043},{"ano":2023.856,"osc":0.048},{"ano":2023.866,"osc":0.043},{"ano":2023.876,"osc":0.048},{"ano":2023.886,"osc":0.057},{"ano":2023.896,"osc":0.062},{"ano":2023.906,"osc":0.068},{"ano":2023.916,"osc":0.057},{"ano":2023.926,"osc":0.075},{"ano":2023.936,"osc":0.062},{"ano":2023.946,"osc":0.068},{"ano":2023.956,"osc":0.057},{"ano":2023.966,"osc":0.075},{"ano":2023.976,"osc":0.09},{"ano":2023.986,"osc":0.075},{"ano":2023.996,"osc":0.09},{"ano":2024.006,"osc":0.082},{"ano":2024.016,"osc":0.098},{"ano":2024.026,"osc":0.082},{"ano":2024.036,"osc":0.107},{"ano":2024.046,"osc":0.068},{"ano":2024.056,"osc":0.04},{"ano":2024.064,"osc":0.033},{"ano":2024.072,"osc":0.036},{"ano":2024.08,"osc":0.048},{"ano":2024.088,"osc":0.043},{"ano":2024.096,"osc":0.1},{"ano":2024.104,"osc":0.14},{"ano":2024.112,"osc":0.2},{"ano":2024.12,"osc":0.3},{"ano":2024.128,"osc":0.8},{"ano":2024.136,"osc":2},{"ano":2024.144,"osc":1.8},{"ano":2024.152,"osc":0.08},{"ano":2024.16,"osc":0.06},{"ano":2024.168,"osc":0.8},{"ano":2024.176,"osc":3},{"ano":2024.182,"osc":10},{"ano":2024.186,"osc":25}
],
"limiares": [
{"nivel":"alto","osc":3.44},{"nivel":"medio","osc":0.147},{"nivel":"baixo","osc":0.0072}
]
},
"layer": [
{
"data": {"name": "preco"},
"mark": {"type": "line", "color": "#000000", "strokeWidth": 2.2, "clip": true},
"encoding": {
"x": {"field": "ano", "type": "quantitative", "scale": {"domain": [2010.557, 2024.193], "nice": false, "zero": false},
"axis": {"values": [2011,2012,2013,2014,2015,2016,2017,2018,2019,2020,2021,2022,2023,2024], "format": "d", "grid": false, "domainColor": "#e3e3e3", "tickColor": "#dddddd", "tickSize": 6, "labelColor": "#666666", "labelFontSize": 11.5, "labelPadding": 8, "offset": 1, "title": "Fonte: Glassnode, caueconomy", "titleX": -57, "titleY": 56, "titleAlign": "left", "titleAnchor": null, "titleBaseline": "middle", "titleFontSize": 12.8, "titleFontWeight": "normal", "titleColor": "#555555"}},
"y": {"field": "preco", "type": "quantitative", "scale": {"type": "log", "domain": [0.01718, 84900], "nice": false},
"axis": {"orient": "left", "values": [0.02,0.06,0.1,0.4,0.8,2,6,10,40,80,200,600,1000,4000,8000,20000,60000], "labelExpr": "datum.value >= 1000 ? format(datum.value/1000, '~g') + 'K' : format(datum.value, '~g')", "grid": true, "gridColor": "#efefef", "domainColor": "#333333", "domainWidth": 2.5, "ticks": false, "labelPadding": 9, "offset": 6, "labelColor": "#666666", "labelFontSize": 11, "title": null}}
}
},
{
"layer": [
{
"data": {"name": "oscilador"},
"mark": {"type": "line", "color": "#FFC000", "strokeWidth": 1.6, "clip": true},
"encoding": {
"x": {"field": "ano", "type": "quantitative", "scale": {"domain": [2010.557, 2024.193], "nice": false, "zero": false},
"axis": {"values": [2011,2012,2013,2014,2015,2016,2017,2018,2019,2020,2021,2022,2023,2024], "format": "d", "grid": false, "domainColor": "#e3e3e3", "tickColor": "#dddddd", "tickSize": 6, "labelColor": "#666666", "labelFontSize": 11.5, "labelPadding": 8, "offset": 1, "title": "Fonte: Glassnode, caueconomy", "titleX": -57, "titleY": 56, "titleAlign": "left", "titleAnchor": null, "titleBaseline": "middle", "titleFontSize": 12.8, "titleFontWeight": "normal", "titleColor": "#555555"}},
"y": {"field": "osc", "type": "quantitative", "scale": {"type": "log", "domain": [0.00175, 993], "nice": false},
"axis": {"orient": "right", "values": [0.002,0.006,0.01,0.04,0.08,0.2,0.6,1,4,8,20,60,100,400,800], "format": "~g", "grid": true, "gridColor": "#f3f3f3", "domainColor": "#FFC000", "domainWidth": 2.5, "ticks": false, "labelPadding": 9, "offset": 6, "labelColor": "#666666", "labelFontSize": 11, "title": "BLOCKTRENDS", "titleAngle": 0, "titleX": -54, "titleY": 545, "titleAlign": "left", "titleBaseline": "middle", "titleFontSize": 14, "titleFontWeight": 900, "titleColor": "#111111"}}
}
},
{
"data": {"name": "limiares"},
"mark": {"type": "rule", "strokeWidth": 2},
"encoding": {
"y": {"field": "osc", "type": "quantitative"},
"color": {"field": "nivel", "type": "nominal", "scale": {"domain": ["alto","medio","baixo"], "range": ["#ff4433","#8a6d0b","#4cc552"]}, "legend": null}
}
}
]
}
],
"resolve": {"scale": {"y": "independent"}}
}
